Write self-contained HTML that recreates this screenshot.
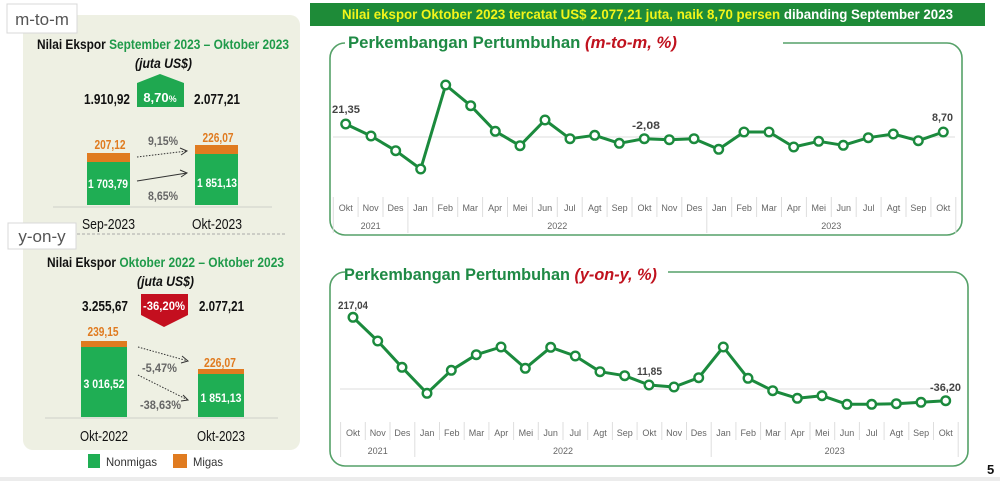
<!DOCTYPE html>
<html><head><meta charset="utf-8"><style>
html,body{margin:0;padding:0;background:#fff;}
svg{display:block;font-family:"Liberation Sans",Arial,sans-serif;}
</style></head><body>
<svg width="1000" height="481" viewBox="0 0 1000 481" xmlns="http://www.w3.org/2000/svg">
<rect x="0" y="0" width="1000" height="481" fill="#fff"/>
<rect x="0" y="477" width="1000" height="4" fill="#ececec"/>

<!-- LEFT PANEL -->
<rect x="23" y="15" width="277" height="435" rx="10" fill="#eef0e3"/>
<rect x="7" y="4" width="70" height="29" fill="#fff" stroke="#d8d8d8" stroke-width="1"/>
<text x="42" y="25" font-size="17" fill="#555" text-anchor="middle">m-to-m</text>

<text x="37" y="49" font-size="14" font-weight="bold" textLength="252" lengthAdjust="spacingAndGlyphs"><tspan fill="#111">Nilai Ekspor </tspan><tspan fill="#1f9a4a">September 2023 – Oktober 2023</tspan></text>
<text x="135" y="68" font-size="14" font-weight="bold" font-style="italic" fill="#111" textLength="57" lengthAdjust="spacingAndGlyphs">(juta US$)</text>
<text x="84" y="104" font-size="15" font-weight="bold" fill="#111" textLength="46" lengthAdjust="spacingAndGlyphs">1.910,92</text>
<polygon points="137,83 160,74 184,83 184,107 137,107" fill="#1fa850"/>
<text x="160" y="102" font-size="13" font-weight="bold" fill="#fff" text-anchor="middle">8,70<tspan font-size="9">%</tspan></text>
<text x="194" y="104" font-size="15" font-weight="bold" fill="#111" textLength="46" lengthAdjust="spacingAndGlyphs">2.077,21</text>

<rect x="87" y="153" width="43" height="9" fill="#e07b20"/>
<rect x="87" y="162" width="43" height="43" fill="#1fae54"/>
<rect x="195" y="145" width="43" height="9" fill="#e07b20"/>
<rect x="195" y="154" width="43" height="51" fill="#1fae54"/>
<text x="110" y="149" font-size="13" font-weight="bold" fill="#e07b20" text-anchor="middle" textLength="31" lengthAdjust="spacingAndGlyphs">207,12</text>
<text x="218" y="142" font-size="13" font-weight="bold" fill="#e07b20" text-anchor="middle" textLength="31" lengthAdjust="spacingAndGlyphs">226,07</text>
<text x="108" y="188" font-size="12" font-weight="bold" fill="#fff" text-anchor="middle" textLength="40" lengthAdjust="spacingAndGlyphs">1 703,79</text>
<text x="217" y="187" font-size="12" font-weight="bold" fill="#fff" text-anchor="middle" textLength="40" lengthAdjust="spacingAndGlyphs">1 851,13</text>
<text x="148" y="145" font-size="12" font-weight="bold" fill="#666" textLength="30" lengthAdjust="spacingAndGlyphs">9,15%</text>
<text x="148" y="200" font-size="12" font-weight="bold" fill="#666" textLength="30" lengthAdjust="spacingAndGlyphs">8,65%</text>
<g stroke="#333" stroke-width="1" fill="none">
<line x1="137" y1="157" x2="187" y2="151" stroke-dasharray="1.5,1.5"/>
<polyline points="180,148 187,151 181,155"/>
<line x1="137" y1="181" x2="187" y2="173"/>
<polyline points="180,170 187,173 181,177"/>
</g>
<line x1="53" y1="207" x2="272" y2="207" stroke="#cfd0c8" stroke-width="1"/>
<text x="82" y="229" font-size="15" fill="#111" textLength="53" lengthAdjust="spacingAndGlyphs">Sep-2023</text>
<text x="192" y="229" font-size="15" fill="#111" textLength="50" lengthAdjust="spacingAndGlyphs">Okt-2023</text>
<line x1="77" y1="234" x2="287" y2="234" stroke="#aaa" stroke-width="1" stroke-dasharray="3,2"/>

<rect x="8" y="223" width="68" height="26" fill="#fff" stroke="#d8d8d8" stroke-width="1"/>
<text x="42" y="242" font-size="17" fill="#555" text-anchor="middle">y-on-y</text>

<text x="47" y="267" font-size="14" font-weight="bold" textLength="237" lengthAdjust="spacingAndGlyphs"><tspan fill="#111">Nilai Ekspor </tspan><tspan fill="#1f9a4a">Oktober 2022 – Oktober 2023</tspan></text>
<text x="137" y="286" font-size="14" font-weight="bold" font-style="italic" fill="#111" textLength="57" lengthAdjust="spacingAndGlyphs">(juta US$)</text>
<text x="82" y="311" font-size="15" font-weight="bold" fill="#111" textLength="46" lengthAdjust="spacingAndGlyphs">3.255,67</text>
<polygon points="141,294 188,294 188,315 164,327 141,315" fill="#c40f1f"/>
<text x="164" y="310" font-size="12" font-weight="bold" fill="#fff" text-anchor="middle" textLength="42" lengthAdjust="spacingAndGlyphs">-36,20%</text>
<text x="199" y="311" font-size="15" font-weight="bold" fill="#111" textLength="45" lengthAdjust="spacingAndGlyphs">2.077,21</text>

<rect x="81" y="341" width="46" height="6" fill="#e07b20"/>
<rect x="81" y="347" width="46" height="70" fill="#1fae54"/>
<rect x="198" y="369" width="46" height="5" fill="#e07b20"/>
<rect x="198" y="374" width="46" height="43" fill="#1fae54"/>
<text x="103" y="336" font-size="13" font-weight="bold" fill="#e07b20" text-anchor="middle" textLength="31" lengthAdjust="spacingAndGlyphs">239,15</text>
<text x="220" y="367" font-size="13" font-weight="bold" fill="#e07b20" text-anchor="middle" textLength="32" lengthAdjust="spacingAndGlyphs">226,07</text>
<text x="104" y="388" font-size="12" font-weight="bold" fill="#fff" text-anchor="middle" textLength="41" lengthAdjust="spacingAndGlyphs">3 016,52</text>
<text x="221" y="402" font-size="12" font-weight="bold" fill="#fff" text-anchor="middle" textLength="41" lengthAdjust="spacingAndGlyphs">1 851,13</text>
<text x="142" y="372" font-size="12" font-weight="bold" fill="#666" textLength="35" lengthAdjust="spacingAndGlyphs">-5,47%</text>
<text x="140" y="409" font-size="12" font-weight="bold" fill="#666" textLength="41" lengthAdjust="spacingAndGlyphs">-38,63%</text>
<g stroke="#333" stroke-width="1" fill="none">
<line x1="138" y1="347" x2="188" y2="361" stroke-dasharray="1.5,1.5"/>
<polyline points="182,356 188,361 181,363"/>
<line x1="138" y1="375" x2="188" y2="400" stroke-dasharray="1.5,1.5"/>
<polyline points="183,395 188,400 181,401"/>
</g>
<line x1="45" y1="418" x2="278" y2="418" stroke="#cfd0c8" stroke-width="1"/>
<text x="80" y="441" font-size="15" fill="#111" textLength="48" lengthAdjust="spacingAndGlyphs">Okt-2022</text>
<text x="197" y="441" font-size="15" fill="#111" textLength="48" lengthAdjust="spacingAndGlyphs">Okt-2023</text>

<rect x="88" y="454" width="12" height="14" fill="#1fae54"/>
<text x="106" y="466" font-size="12" fill="#333" textLength="51" lengthAdjust="spacingAndGlyphs">Nonmigas</text>
<rect x="173" y="454" width="14" height="14" fill="#e07b20"/>
<text x="193" y="466" font-size="12" fill="#333" textLength="30" lengthAdjust="spacingAndGlyphs">Migas</text>

<!-- BANNER -->
<rect x="310" y="3" width="675" height="23" fill="#1e8b38"/>
<text x="342" y="19" font-size="14" font-weight="bold" textLength="611" lengthAdjust="spacingAndGlyphs"><tspan fill="#f2f51a">Nilai ekspor Oktober 2023 tercatat US$ 2.077,21 juta, naik 8,70 persen </tspan><tspan fill="#fff">dibanding September 2023</tspan></text>

<!-- TOP CHART -->
<path d="M345,43 A15 15 0 0 0 330 58 L330 220 A15 15 0 0 0 345 235 L947 235 A15 15 0 0 0 962 220 L962 58 A15 15 0 0 0 947 43 L783 43" fill="none" stroke="#55a168" stroke-width="1.6"/>
<text x="348" y="48" font-size="17" font-weight="bold" textLength="329" lengthAdjust="spacingAndGlyphs"><tspan fill="#1f8a45">Perkembangan Pertumbuhan </tspan><tspan fill="#c0121e" font-style="italic">(m-to-m, %)</tspan></text>
<line x1="333" y1="137" x2="955" y2="137" stroke="#dcdcdc" stroke-width="1"/>
<g stroke="#dedede" stroke-width="1">
<line x1="333.3" y1="197" x2="333.3" y2="233"/>
<line x1="358.1" y1="197" x2="358.1" y2="217"/>
<line x1="383" y1="197" x2="383" y2="217"/>
<line x1="407.9" y1="197" x2="407.9" y2="233"/>
<line x1="432.8" y1="197" x2="432.8" y2="217"/>
<line x1="457.7" y1="197" x2="457.7" y2="217"/>
<line x1="482.6" y1="197" x2="482.6" y2="217"/>
<line x1="507.5" y1="197" x2="507.5" y2="217"/>
<line x1="532.4" y1="197" x2="532.4" y2="217"/>
<line x1="557.3" y1="197" x2="557.3" y2="217"/>
<line x1="582.2" y1="197" x2="582.2" y2="217"/>
<line x1="607.1" y1="197" x2="607.1" y2="217"/>
<line x1="632" y1="197" x2="632" y2="217"/>
<line x1="656.9" y1="197" x2="656.9" y2="217"/>
<line x1="681.8" y1="197" x2="681.8" y2="217"/>
<line x1="706.8" y1="197" x2="706.8" y2="233"/>
<line x1="731.7" y1="197" x2="731.7" y2="217"/>
<line x1="756.6" y1="197" x2="756.6" y2="217"/>
<line x1="781.5" y1="197" x2="781.5" y2="217"/>
<line x1="806.4" y1="197" x2="806.4" y2="217"/>
<line x1="831.3" y1="197" x2="831.3" y2="217"/>
<line x1="856.2" y1="197" x2="856.2" y2="217"/>
<line x1="881.1" y1="197" x2="881.1" y2="217"/>
<line x1="906" y1="197" x2="906" y2="217"/>
<line x1="930.9" y1="197" x2="930.9" y2="217"/>
<line x1="955.8" y1="197" x2="955.8" y2="233"/>
</g>
<g font-size="9" fill="#666" text-anchor="middle">
<text x="345.7" y="211">Okt</text><text x="370.6" y="211">Nov</text><text x="395.5" y="211">Des</text><text x="420.4" y="211">Jan</text><text x="445.3" y="211">Feb</text><text x="470.2" y="211">Mar</text><text x="495.1" y="211">Apr</text><text x="520" y="211">Mei</text><text x="544.9" y="211">Jun</text><text x="569.8" y="211">Jul</text><text x="594.7" y="211">Agt</text><text x="619.6" y="211">Sep</text><text x="644.5" y="211">Okt</text><text x="669.4" y="211">Nov</text><text x="694.3" y="211">Des</text><text x="719.2" y="211">Jan</text><text x="744.1" y="211">Feb</text><text x="769" y="211">Mar</text><text x="793.9" y="211">Apr</text><text x="818.8" y="211">Mei</text><text x="843.7" y="211">Jun</text><text x="868.6" y="211">Jul</text><text x="893.5" y="211">Agt</text><text x="918.4" y="211">Sep</text><text x="943.3" y="211">Okt</text>
<text x="370.6" y="229">2021</text><text x="557.3" y="229">2022</text><text x="831.3" y="229">2023</text>
</g>
<polyline fill="none" stroke="#1b8a3d" stroke-width="3" stroke-linejoin="round" points="345.7,124 371,136 395.7,150.7 420.7,169 445.7,85 470.7,105.7 495.3,131.3 520,145.7 545,120 570,138.7 594.7,135.3 619.3,143.3 644.3,138.7 669.3,139.7 694,138.7 718.7,149.3 744,132 769,132 793.7,147 818.7,141.3 843.3,145.3 868.3,137.7 893.3,134 918.3,140.7 943.3,132"/>
<g fill="#fff" stroke="#1b8a3d" stroke-width="2.4">
<circle cx="345.7" cy="124" r="4.3"/><circle cx="371" cy="136" r="4.3"/><circle cx="395.7" cy="150.7" r="4.3"/><circle cx="420.7" cy="169" r="4.3"/><circle cx="445.7" cy="85" r="4.3"/><circle cx="470.7" cy="105.7" r="4.3"/><circle cx="495.3" cy="131.3" r="4.3"/><circle cx="520" cy="145.7" r="4.3"/><circle cx="545" cy="120" r="4.3"/><circle cx="570" cy="138.7" r="4.3"/><circle cx="594.7" cy="135.3" r="4.3"/><circle cx="619.3" cy="143.3" r="4.3"/><circle cx="644.3" cy="138.7" r="4.3"/><circle cx="669.3" cy="139.7" r="4.3"/><circle cx="694" cy="138.7" r="4.3"/><circle cx="718.7" cy="149.3" r="4.3"/><circle cx="744" cy="132" r="4.3"/><circle cx="769" cy="132" r="4.3"/><circle cx="793.7" cy="147" r="4.3"/><circle cx="818.7" cy="141.3" r="4.3"/><circle cx="843.3" cy="145.3" r="4.3"/><circle cx="868.3" cy="137.7" r="4.3"/><circle cx="893.3" cy="134" r="4.3"/><circle cx="918.3" cy="140.7" r="4.3"/><circle cx="943.3" cy="132" r="4.3"/>
</g>
<g font-size="11" font-weight="bold" fill="#444">
<text x="332" y="113" textLength="28" lengthAdjust="spacingAndGlyphs">21,35</text>
<text x="632" y="129" textLength="28" lengthAdjust="spacingAndGlyphs">-2,08</text>
<text x="932" y="121" textLength="21" lengthAdjust="spacingAndGlyphs">8,70</text>
</g>

<!-- BOTTOM CHART -->
<path d="M345,272 A15 15 0 0 0 330 287 L330 451 A15 15 0 0 0 345 466 L953 466 A15 15 0 0 0 968 451 L968 287 A15 15 0 0 0 953 272 L668 272" fill="none" stroke="#55a168" stroke-width="1.6"/>
<text x="344" y="280" font-size="17" font-weight="bold" textLength="313" lengthAdjust="spacingAndGlyphs"><tspan fill="#1f8a45">Perkembangan Pertumbuhan </tspan><tspan fill="#c0121e" font-style="italic">(y-on-y, %)</tspan></text>
<line x1="340" y1="389" x2="957" y2="389" stroke="#dcdcdc" stroke-width="1"/>
<g stroke="#dedede" stroke-width="1">
<line x1="340.6" y1="422" x2="340.6" y2="457"/>
<line x1="365.3" y1="422" x2="365.3" y2="440"/>
<line x1="390" y1="422" x2="390" y2="440"/>
<line x1="414.8" y1="422" x2="414.8" y2="457"/>
<line x1="439.5" y1="422" x2="439.5" y2="440"/>
<line x1="464.2" y1="422" x2="464.2" y2="440"/>
<line x1="488.9" y1="422" x2="488.9" y2="440"/>
<line x1="513.6" y1="422" x2="513.6" y2="440"/>
<line x1="538.3" y1="422" x2="538.3" y2="440"/>
<line x1="563" y1="422" x2="563" y2="440"/>
<line x1="587.7" y1="422" x2="587.7" y2="440"/>
<line x1="612.4" y1="422" x2="612.4" y2="440"/>
<line x1="637.1" y1="422" x2="637.1" y2="440"/>
<line x1="661.8" y1="422" x2="661.8" y2="440"/>
<line x1="686.5" y1="422" x2="686.5" y2="440"/>
<line x1="711.2" y1="422" x2="711.2" y2="457"/>
<line x1="735.9" y1="422" x2="735.9" y2="440"/>
<line x1="760.6" y1="422" x2="760.6" y2="440"/>
<line x1="785.3" y1="422" x2="785.3" y2="440"/>
<line x1="810" y1="422" x2="810" y2="440"/>
<line x1="834.7" y1="422" x2="834.7" y2="440"/>
<line x1="859.4" y1="422" x2="859.4" y2="440"/>
<line x1="884.1" y1="422" x2="884.1" y2="440"/>
<line x1="908.8" y1="422" x2="908.8" y2="440"/>
<line x1="933.5" y1="422" x2="933.5" y2="440"/>
<line x1="958.2" y1="422" x2="958.2" y2="457"/>
</g>
<g font-size="9" fill="#666" text-anchor="middle">
<text x="353" y="436">Okt</text><text x="377.7" y="436">Nov</text><text x="402.4" y="436">Des</text><text x="427.1" y="436">Jan</text><text x="451.8" y="436">Feb</text><text x="476.5" y="436">Mar</text><text x="501.2" y="436">Apr</text><text x="525.9" y="436">Mei</text><text x="550.6" y="436">Jun</text><text x="575.3" y="436">Jul</text><text x="600" y="436">Agt</text><text x="624.7" y="436">Sep</text><text x="649.4" y="436">Okt</text><text x="674.1" y="436">Nov</text><text x="698.8" y="436">Des</text><text x="723.5" y="436">Jan</text><text x="748.2" y="436">Feb</text><text x="772.9" y="436">Mar</text><text x="797.6" y="436">Apr</text><text x="822.3" y="436">Mei</text><text x="847" y="436">Jun</text><text x="871.7" y="436">Jul</text><text x="896.4" y="436">Agt</text><text x="921.1" y="436">Sep</text><text x="945.8" y="436">Okt</text>
<text x="377.7" y="454">2021</text><text x="563" y="454">2022</text><text x="834.7" y="454">2023</text>
</g>
<polyline fill="none" stroke="#1b8a3d" stroke-width="3" stroke-linejoin="round" points="353,317.3 377.7,341 402,367.3 427,393.3 451.3,370.3 476.3,354.7 501,347 525.3,368.3 550.7,347.3 575.3,356 600,371.7 624.7,375.7 649,385 674,387 698.7,377.7 723.3,347 748,378.3 772.7,390.7 797.3,398.3 822,395.7 847,404.3 871.7,404.3 896.3,403.7 921,402.3 945.7,400.7"/>
<g fill="#fff" stroke="#1b8a3d" stroke-width="2.4">
<circle cx="353" cy="317.3" r="4.3"/><circle cx="377.7" cy="341" r="4.3"/><circle cx="402" cy="367.3" r="4.3"/><circle cx="427" cy="393.3" r="4.3"/><circle cx="451.3" cy="370.3" r="4.3"/><circle cx="476.3" cy="354.7" r="4.3"/><circle cx="501" cy="347" r="4.3"/><circle cx="525.3" cy="368.3" r="4.3"/><circle cx="550.7" cy="347.3" r="4.3"/><circle cx="575.3" cy="356" r="4.3"/><circle cx="600" cy="371.7" r="4.3"/><circle cx="624.7" cy="375.7" r="4.3"/><circle cx="649" cy="385" r="4.3"/><circle cx="674" cy="387" r="4.3"/><circle cx="698.7" cy="377.7" r="4.3"/><circle cx="723.3" cy="347" r="4.3"/><circle cx="748" cy="378.3" r="4.3"/><circle cx="772.7" cy="390.7" r="4.3"/><circle cx="797.3" cy="398.3" r="4.3"/><circle cx="822" cy="395.7" r="4.3"/><circle cx="847" cy="404.3" r="4.3"/><circle cx="871.7" cy="404.3" r="4.3"/><circle cx="896.3" cy="403.7" r="4.3"/><circle cx="921" cy="402.3" r="4.3"/><circle cx="945.7" cy="400.7" r="4.3"/>
</g>
<g font-size="11" font-weight="bold" fill="#444">
<text x="338" y="309" textLength="30" lengthAdjust="spacingAndGlyphs">217,04</text>
<text x="637" y="375" textLength="25" lengthAdjust="spacingAndGlyphs">11,85</text>
<text x="930" y="391" textLength="31" lengthAdjust="spacingAndGlyphs">-36,20</text>
</g>

<text x="987" y="474" font-size="13" font-weight="bold" fill="#111">5</text>
</svg>
</body></html>
